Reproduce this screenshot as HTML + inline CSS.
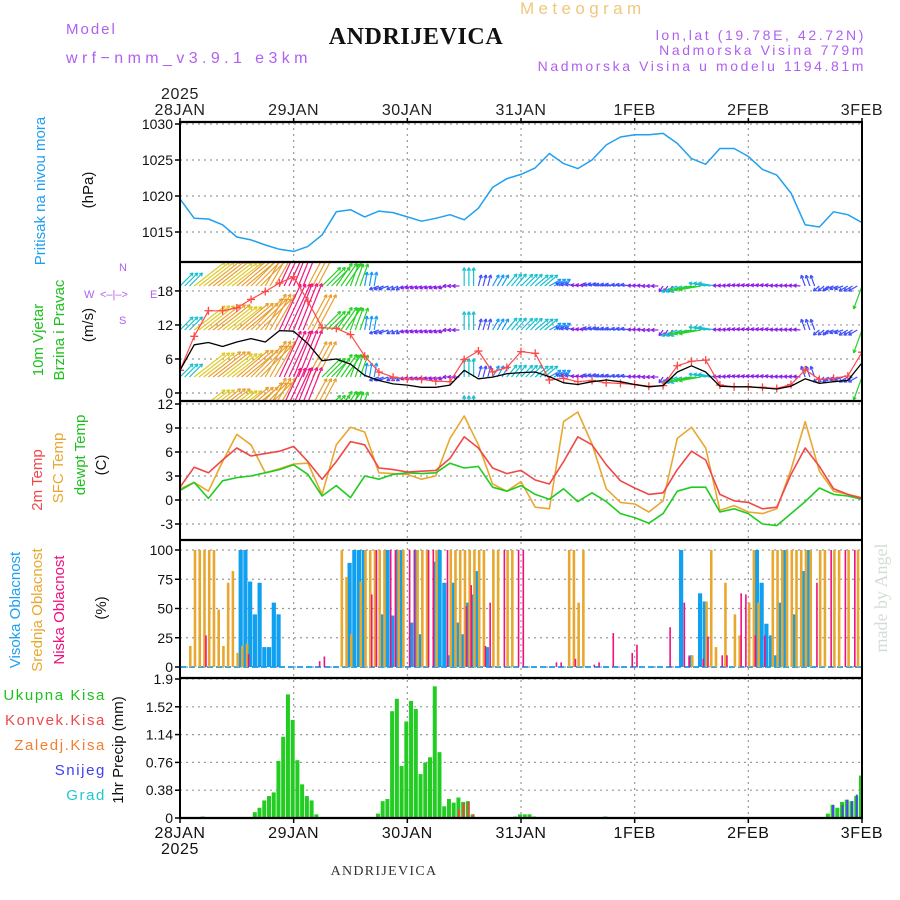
<!DOCTYPE html>
<html><head><meta charset="utf-8">
<style>
html,body{margin:0;padding:0;background:#fff;}
svg{display:block;font-family:"Liberation Sans",sans-serif;}
</style></head>
<body>
<svg id="chart" width="900" height="900" viewBox="0 0 900 900" xmlns="http://www.w3.org/2000/svg">
<defs>
<clipPath id="cpWind"><rect x="181" y="263" width="680" height="137"/></clipPath>
</defs>
<rect x="0" y="0" width="900" height="900" fill="#fff"/>
<!-- header -->
<text x="66" y="34" font-size="15" fill="#b060f0" letter-spacing="2">Model</text>
<text x="66" y="63" font-size="16" fill="#b060f0" letter-spacing="4.4">wrf−nmm_v3.9.1 e3km</text>
<text x="520" y="14" font-size="17" fill="#f0c87a" letter-spacing="4.4">Meteogram</text>
<text x="416" y="44" font-size="24" font-weight="bold" text-anchor="middle" font-family="Liberation Serif, serif" fill="#111" letter-spacing="0.6">ANDRIJEVICA</text>
<text x="866" y="40" font-size="14" text-anchor="end" fill="#b060f0" letter-spacing="2.6">lon,lat (19.78E, 42.72N)</text>
<text x="866" y="55" font-size="14" text-anchor="end" fill="#b060f0" letter-spacing="2.6">Nadmorska Visina 779m</text>
<text x="866" y="71" font-size="14" text-anchor="end" fill="#b060f0" letter-spacing="2.6">Nadmorska Visina u modelu 1194.81m</text>
<text x="384" y="875" font-size="14" text-anchor="middle" font-family="Liberation Serif, serif" fill="#333" letter-spacing="1.3">ANDRIJEVICA</text>
<text transform="translate(887,598) rotate(-90)" font-size="18" text-anchor="middle" font-family="Liberation Serif, serif" fill="#d4ddd4">made by Angel</text>

<!-- left titles -->
<g font-size="15" text-anchor="middle">
<text transform="translate(45,191) rotate(-90)" fill="#20a0f0">Pritisak na nivou mora</text>
<text transform="translate(93,190) rotate(-90)" fill="#111">(hPa)</text>
<text transform="translate(43,340) rotate(-90)" fill="#20c020">10m Vjetar</text>
<text transform="translate(64,330) rotate(-90)" fill="#20c020">Brzina i Pravac</text>
<text transform="translate(93,325) rotate(-90)" fill="#111">(m/s)</text>
<text transform="translate(42,480) rotate(-90)" fill="#f04848">2m Temp</text>
<text transform="translate(63,468) rotate(-90)" fill="#e8a830">SFC Temp</text>
<text transform="translate(85,455) rotate(-90)" fill="#20c020">dewpt Temp</text>
<text transform="translate(106,465) rotate(-90)" fill="#111">(C)</text>
<text transform="translate(20,610) rotate(-90)" fill="#20a0f0">Visoka Oblacnost</text>
<text transform="translate(42,610) rotate(-90)" fill="#e8a830">Srednja Oblacnost</text>
<text transform="translate(64,610) rotate(-90)" fill="#f0107f">Niska Oblacnost</text>
<text transform="translate(106,608) rotate(-90)" fill="#111">(%)</text>
<text transform="translate(123,750) rotate(-90)" fill="#111">1hr Precip (mm)</text>
</g>
<g font-size="15" text-anchor="end" letter-spacing="1.6">
<text x="106" y="700" fill="#20c020">Ukupna  Kisa</text>
<text x="106" y="725" fill="#f04848">Konvek.Kisa</text>
<text x="106" y="750" fill="#f08030">Zaledj.Kisa</text>
<text x="106" y="775" fill="#4040f0">Snijeg</text>
<text x="106" y="800" fill="#20c8d0">Grad</text>
</g>
<g font-size="11" fill="#b060f0">
<text x="119" y="271">N</text><text x="84" y="298">W</text><text x="150" y="298">E</text><text x="119" y="324">S</text>
<text x="100" y="298">&lt;–|–&gt;</text>
</g>

<g id="grid"></g>
<g id="marks"></g>
<g id="axes"></g>
</svg>
<script>
// ---- data ----
const dayLabels = ["28JAN","29JAN","30JAN","31JAN","1FEB","2FEB","3FEB"];
const pressureTicks = [1030,1025,1020,1015];
const windTicks = [18,12,6,0];
const tempTicks = [12,9,6,3,0,-3];
const cloudTicks = [100,75,50,25,0];
const precipTicks = [1.9,1.52,1.14,0.76,0.38,0];
// 3-hourly series, hour 0..144
const pressure = [1019.6,1016.9,1016.8,1016.0,1014.3,1013.9,1013.2,1012.6,1012.3,1013.0,1014.6,1017.8,1018.1,1017.1,1017.9,1017.7,1017.1,1016.5,1016.9,1017.4,1016.7,1018.3,1021.2,1022.4,1023.0,1023.9,1025.9,1024.5,1023.8,1025.0,1027.1,1028.2,1028.5,1028.5,1028.7,1027.3,1025.2,1024.4,1026.6,1026.6,1025.5,1023.7,1022.9,1020.4,1016.0,1015.7,1017.8,1017.4,1016.3];
const temp2m = [1.6,4.1,3.4,5.0,6.5,5.5,5.8,6.1,6.7,4.8,2.6,4.8,7.3,6.9,4.0,3.8,3.5,3.6,3.7,5.2,7.9,6.5,4.0,3.3,3.7,2.5,2.0,4.8,7.9,6.9,4.4,2.4,1.5,0.7,0.9,3.8,6.1,5.0,0.7,-0.1,-0.3,-1.1,-0.9,3.2,6.5,4.2,1.4,0.7,0.2];
const tempSfc = [1.4,2.2,1.1,4.8,8.2,6.9,3.4,3.9,4.5,4.6,0.7,6.9,9.1,8.5,3.4,3.3,3.2,2.6,3.0,7.7,10.5,6.9,2.0,1.1,2.3,-0.9,-1.1,9.8,11.0,7.0,1.4,-0.3,-0.5,-1.5,-0.1,7.7,9.1,6.5,-1.3,-0.7,-1.5,-1.7,-1.1,3.8,9.8,3.6,1.1,0.7,0.3];
const dewpt = [1.2,2.2,0.2,2.4,2.8,3.0,3.4,3.8,4.4,3.2,0.5,1.8,0.3,3.0,2.6,3.2,3.4,3.3,3.4,4.6,4.0,4.2,1.6,1.1,1.8,0.7,0.1,1.4,-0.2,0.9,-0.2,-1.7,-2.2,-2.9,-1.7,1.1,1.6,1.6,-1.5,-1.1,-1.7,-3.0,-3.2,-1.7,-0.2,1.5,0.7,0.5,0.1];
const windSpeed = [4.0,8.5,8.9,8.2,9.0,9.6,9.0,11.0,10.9,8.7,5.7,6.0,5.1,3.1,2.2,1.6,1.4,1.0,1.0,1.4,4.0,2.5,2.8,3.4,3.6,3.7,2.9,1.8,1.5,2.0,2.3,2.0,1.5,1.1,1.3,3.7,4.8,3.7,1.2,1.1,1.1,0.9,0.7,1.2,2.5,1.7,2.0,2.2,5.3];
const windGust = [4.0,10.0,14.5,14.5,15.0,16.5,17.9,19.4,20.5,16.2,11.5,11.4,10.3,6.5,3.7,2.8,2.5,2.4,2.1,2.0,5.9,7.4,3.7,4.5,7.3,7.0,2.3,2.6,2.0,2.2,1.8,1.7,1.5,1.2,1.3,4.8,5.6,5.8,1.4,1.1,1.1,1.0,0.8,1.5,4.1,2.4,2.6,3.0,7.2];
const windDir = [45,38,38,38,40,45,60,65,68,62,45,55,70,80,200,210,200,200,200,180,90,75,60,50,45,40,30,160,170,165,170,170,175,180,235,200,190,170,175,170,170,170,175,175,110,220,200,210,250];
// hourly cloud cover [hour, percent]
const highCloud = [[13,100],[14,100],[15,73],[16,45],[17,72],[18,17],[19,17],[20,55],[21,45],[36,89],[37,100],[38,100],[39,100],[43,45],[44,100],[45,44],[46,100],[47,100],[49,38],[50,100],[51,28],[54,90],[55,100],[56,72],[57,10],[58,72],[59,38],[60,28],[61,55],[62,62],[63,82],[65,17],[106,100],[108,10],[110,63],[111,56],[122,100],[123,72],[124,37],[125,27],[126,10],[127,55],[128,100],[130,45],[132,82],[133,100]];
const midCloud = [[2,18],[3,100],[4,100],[5,100],[6,100],[7,100],[8,49],[9,18],[10,72],[11,82],[12,12],[13,18],[14,20],[34,100],[35,77],[36,28],[38,73],[39,100],[40,100],[41,100],[42,100],[43,100],[46,100],[47,100],[50,100],[51,100],[52,100],[54,100],[57,100],[58,100],[59,100],[60,100],[61,100],[62,100],[63,100],[64,100],[66,100],[67,100],[69,100],[70,100],[82,100],[83,100],[84,55],[85,100],[108,10],[111,56],[112,100],[113,17],[115,72],[117,45],[118,27],[120,55],[121,100],[122,55],[125,100],[126,100],[127,100],[128,100],[129,100],[130,100],[131,100],[132,100],[133,100],[135,100],[136,100],[138,100],[139,100],[141,100],[143,100]];
const lowCloud = [[5,27],[14,11],[29,5],[30,9],[40,62],[41,100],[44,100],[45,100],[48,100],[49,100],[52,100],[53,100],[56,100],[60,52],[61,70],[64,18],[65,55],[68,100],[71,100],[72,100],[79,4],[80,4],[83,7],[87,2],[88,4],[91,29],[95,12],[96,19],[103,34],[106,55],[107,9],[110,7],[111,26],[114,10],[115,10],[118,63],[119,62],[121,27],[123,27],[134,72],[137,100],[140,100],[142,100]];
// hourly precip [hour, mm]
const totalPrecip = [[5,0.02],[16,0.08],[17,0.14],[18,0.24],[19,0.30],[20,0.35],[21,0.78],[22,1.11],[23,1.69],[24,1.34],[25,0.79],[26,0.46],[27,0.30],[28,0.24],[29,0.05],[42,0.06],[43,0.23],[44,0.26],[45,1.46],[46,1.63],[47,0.71],[48,1.32],[49,1.60],[50,1.49],[51,0.60],[52,0.76],[53,0.83],[54,1.80],[55,0.90],[56,0.16],[57,0.26],[58,0.21],[59,0.28],[60,0.22],[61,0.23],[62,0.05],[71,0.02],[72,0.05],[73,0.05],[74,0.05],[75,0.02],[90,0.02],[137,0.06],[138,0.18],[139,0.14],[140,0.22],[141,0.25],[142,0.23],[143,0.30],[144,0.58]];
const convPrecip = [[58,0.03],[59,0.12],[60,0.20],[61,0.22],[62,0.05]];
const snowPrecip = [[138,0.18],[140,0.18],[141,0.25],[142,0.23],[143,0.32]];

// ---- scales ----
const X0=180, X1=862, HOURS=144;
const X = h => X0 + h*(X1-X0)/HOURS;
const Yp = p => 124 + (1030-p)*7.2;
const Yw = s => 393 - s*5.67;
const Yt = t => 500 - t*8;
const Yc = c => 667 - c*1.17;
const Yr = r => 818 - r*(139/1.9);

const NS="http://www.w3.org/2000/svg";
const grid=document.getElementById('grid'), marks=document.getElementById('marks'), axes=document.getElementById('axes');
function mk(tag, attrs, parent){const e=document.createElementNS(NS,tag);for(const k in attrs)e.setAttribute(k,attrs[k]);parent.appendChild(e);return e;}

// grid
for(let d=1; d<6; d++){
  const gl=mk('line',{x1:X(d*24),x2:X(d*24),y1:122,y2:818,stroke:'#999','stroke-width':1.2,'stroke-dasharray':'2,4'},grid);
  
  
}
function hgrid(y){const g=mk('line',{x1:X0,x2:X1,y1:y,y2:y,stroke:'#999','stroke-width':1.2,'stroke-dasharray':'2,4'},grid);
  
  }
function ytick(y,label,name){
  hgrid(y);
  mk('line',{x1:X0-5,x2:X0,y1:y,y2:y,stroke:'#000','stroke-width':1.5},axes);
  const t=mk('text',{x:173,y:y+5,'font-size':14,'text-anchor':'end',fill:'#111'},axes);
  t.textContent=label;
  
  
}
pressureTicks.forEach(v=>ytick(Yp(v),String(v),'pressure-tick-label'));
windTicks.forEach(v=>ytick(Yw(v),String(v),'wind-tick-label'));
tempTicks.forEach(v=>ytick(Yt(v),String(v),'temp-tick-label'));
cloudTicks.forEach(v=>ytick(Yc(v),String(v),'cloud-tick-label'));
precipTicks.forEach(v=>ytick(Yr(v),String(v),'precip-tick-label'));

// day labels
dayLabels.forEach((d,i)=>{
  const x=X(i*24);
  const t1=mk('text',{x:x,y:115,'font-size':16,'text-anchor':'middle',fill:'#222','letter-spacing':0.6},axes);
  t1.textContent=d;
  
  
  const t2=mk('text',{x:x,y:838,'font-size':16,'text-anchor':'middle',fill:'#111','letter-spacing':0.6},axes);
  t2.textContent=d;
  
  
  mk('line',{x1:x,x2:x,y1:118,y2:122,stroke:'#000','stroke-width':1.5},axes);
  mk('line',{x1:x,x2:x,y1:818,y2:823,stroke:'#000','stroke-width':1.5},axes);
});
const yr1=mk('text',{x:X(0),y:99,'font-size':16,'text-anchor':'middle',fill:'#222','letter-spacing':0.6},axes);
yr1.textContent='2025';


const yr2=mk('text',{x:X(0),y:854,'font-size':16,'text-anchor':'middle',fill:'#111','letter-spacing':0.6},axes);
yr2.textContent='2025';



// panel frames
[122,262,401,540,678,818].forEach(y=>mk('line',{x1:X0,x2:X1+1,y1:y,y2:y,stroke:'#000','stroke-width':2.2},axes));
mk('line',{x1:X0,x2:X0,y1:121,y2:819,stroke:'#000','stroke-width':2},axes);
mk('line',{x1:X1,x2:X1,y1:121,y2:819,stroke:'#000','stroke-width':2},axes);

// helpers
function line3(arr, yf, color, name, w, parent){
  const pts=arr.map((v,i)=>X(i*3).toFixed(1)+','+yf(v).toFixed(1)).join(' ');
  const pl=mk('polyline',{points:pts,fill:'none',stroke:color,'stroke-width':w||1.5,'stroke-linejoin':'round'},parent||marks);
  
  
  return pl;
}
// pressure
line3(pressure,Yp,'#20a0f0','pressure-line',1.5);

// wind arrows
const windG=mk('g',{'clip-path':'url(#cpWind)'},marks);
function wcol(s){
  if(s<1.6) return '#8a20e8';
  if(s<2.6) return '#4050f8';
  if(s<3.4) return '#1898f8';
  if(s<4.4) return '#18c0d0';
  if(s<6.5) return '#28d028';
  if(s<8.6) return '#e0c828';
  if(s<10.5) return '#e8a030';
  return '#f01880';
}
const rowBases=[286,330,377,414];
rowBases.forEach(base=>{
  windSpeed.forEach((s,i)=>{
    for(let k=0;k<3;k++){
      const h=i*3+k; if(h>144) continue;
      const L=Math.max(s*4.6,7), a=windDir[i]*Math.PI/180;
      const x1=X(h), y1=base, x2=x1+L*Math.cos(a), y2=y1-L*Math.sin(a);
      const c=wcol(s);
      const ln=mk('line',{x1:x1,y1:y1,x2:x2,y2:y2,stroke:c,'stroke-width':1.2},windG);
      
      
      const hl=3.5;
      [a+Math.PI-0.5,a+Math.PI+0.5].forEach(b=>{
        mk('line',{x1:x2,y1:y2,x2:x2+hl*Math.cos(b),y2:y2-hl*Math.sin(b),stroke:c,'stroke-width':1.2},windG);
      });
    }
  });
});
// wind speed and gusts
line3(windGust,Yw,'#ff4848','wind-gust-line',1.2,windG);
windGust.forEach((g,i)=>{
  const x=X(i*3), y=Yw(g);
  const p=mk('path',{d:`M${x-4},${y}H${x+4}M${x},${y-4}V${y+4}`,stroke:'#ff4848','stroke-width':1.3,fill:'none'},windG);
  
  
});
line3(windSpeed,Yw,'#000','wind-speed-line',1.3,windG);

// temperature
line3(tempSfc,Yt,'#e8a830','sfc-temp-line',1.6);
line3(dewpt,Yt,'#20cc20','dewpt-line',1.6);
line3(temp2m,Yt,'#f04848','temp2m-line',1.6);

// clouds
mk('line',{x1:X0,x2:X1,y1:Yc(0),y2:Yc(0),stroke:'#30a8f0','stroke-width':2,'stroke-dasharray':'6,3'},marks);
highCloud.forEach(([h,v])=>{
  const r=mk('rect',{x:X(h)-3,y:Yc(v),width:4.2,height:Yc(0)-Yc(v),fill:'#10a0f0'},marks);
  
  
});
midCloud.forEach(([h,v])=>{
  const r=mk('rect',{x:X(h)-0.5,y:Yc(v),width:2.6,height:Yc(0)-Yc(v),fill:'#e8a830'},marks);
  
  
});
lowCloud.forEach(([h,v])=>{
  const r=mk('rect',{x:X(h)+1.5,y:Yc(v),width:1.6,height:Yc(0)-Yc(v),fill:'#f0107f'},marks);
  
  
});

// precip
totalPrecip.forEach(([h,v])=>{
  const r=mk('rect',{x:X(h)-3,y:Yr(v),width:4,height:Yr(0)-Yr(v),fill:'#22cc22'},marks);
  
  
});
convPrecip.forEach(([h,v])=>{
  const r=mk('rect',{x:X(h)-1.5,y:Yr(v),width:2,height:Yr(0)-Yr(v),fill:'#ff4040'},marks);
  
  
});
snowPrecip.forEach(([h,v])=>{
  const r=mk('rect',{x:X(h)-1.5,y:Yr(v),width:2,height:Yr(0)-Yr(v),fill:'#4848f0'},marks);
  
  
});
</script>
</body></html>
